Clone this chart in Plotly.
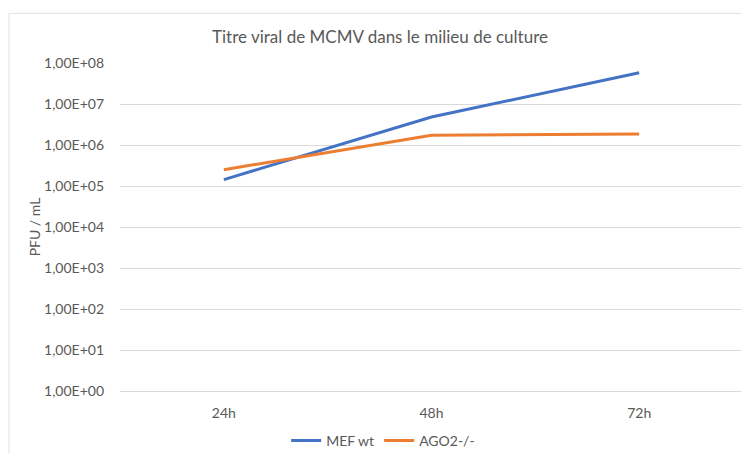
import plotly.graph_objects as go

categories = ["24h", "48h", "72h"]
mef_wt = [1.43e5, 4.8e6, 5.8e7]
ago2 = [2.5e5, 1.73e6, 1.86e6]
tick_values = [1, 10, 100, 1e3, 1e4, 1e5, 1e6, 1e7, 1e8]
tick_labels = ["1,00E+00", "1,00E+01", "1,00E+02", "1,00E+03", "1,00E+04",
               "1,00E+05", "1,00E+06", "1,00E+07", "1,00E+08"]

FONT = "Lato"
TXT = "#595959"

fig = go.Figure()
fig.add_trace(go.Scatter(x=categories, y=mef_wt, mode="lines", name="MEF wt",
                         line=dict(color="#4472C4", width=3)))
fig.add_trace(go.Scatter(x=categories, y=ago2, mode="lines", name="AGO2-/-",
                         line=dict(color="#ED7D31", width=3)))

OFF = 8  # page body margin
W, H = 749 - OFF, 453 - OFF
# plot area in image pixels
X0, X1, Y0, Y1 = 120, 742.7, 62.7, 391
L = X0 - OFF
R = W - (X1 - OFF)
T = Y0 - OFF
B = H - (Y1 - OFF)
pw = W - L - R
ph = H - T - B


def px_x(x):
    return (x - OFF - L) / pw


def px_y(y):
    return (H - B - (y - OFF)) / ph


fig.update_layout(
    width=W, height=H,
    margin=dict(l=L, r=R, t=T, b=B, autoexpand=False),
    paper_bgcolor="white", plot_bgcolor="white",
    font=dict(family=FONT, color=TXT, size=13),
    title=dict(text="Titre viral de MCMV dans le milieu de culture",
               x=(380 - OFF) / W, xanchor="center", y=1 - (37 - OFF) / H, yanchor="middle",
               font=dict(family=FONT, size=17, color=TXT)),
    showlegend=True,
    legend=dict(orientation="h", x=px_x(383), xanchor="center",
                y=px_y(441), yanchor="middle",
                font=dict(family=FONT, size=14, color=TXT),
                bgcolor="rgba(0,0,0,0)", itemwidth=30, tracegroupgap=0),
    xaxis=dict(type="category", showgrid=False, showline=True, linecolor="#d9d9d9",
               linewidth=1, ticks="", tickfont=dict(family=FONT, size=14, color=TXT),
               ticklabelstandoff=9, range=[-0.5, 2.5], fixedrange=True),
    yaxis=dict(type="log", range=[0, 8], tickvals=tick_values, ticktext=tick_labels,
               showgrid=True, gridcolor="#d9d9d9", gridwidth=1, zeroline=False,
               showline=False, ticks="", ticklabelstandoff=15,
               tickfont=dict(family=FONT, size=14, color=TXT),
               title=dict(text="PFU / mL", standoff=0,
                          font=dict(family=FONT, size=14, color=TXT))),
)

fig.add_shape(type="rect", xref="paper", yref="paper",
              x0=px_x(9), x1=px_x(746), y0=px_y(470), y1=px_y(13),
              line=dict(color="#e0e0e0", width=1), fillcolor="rgba(0,0,0,0)",
              layer="below")

fig.write_html("out.html")
